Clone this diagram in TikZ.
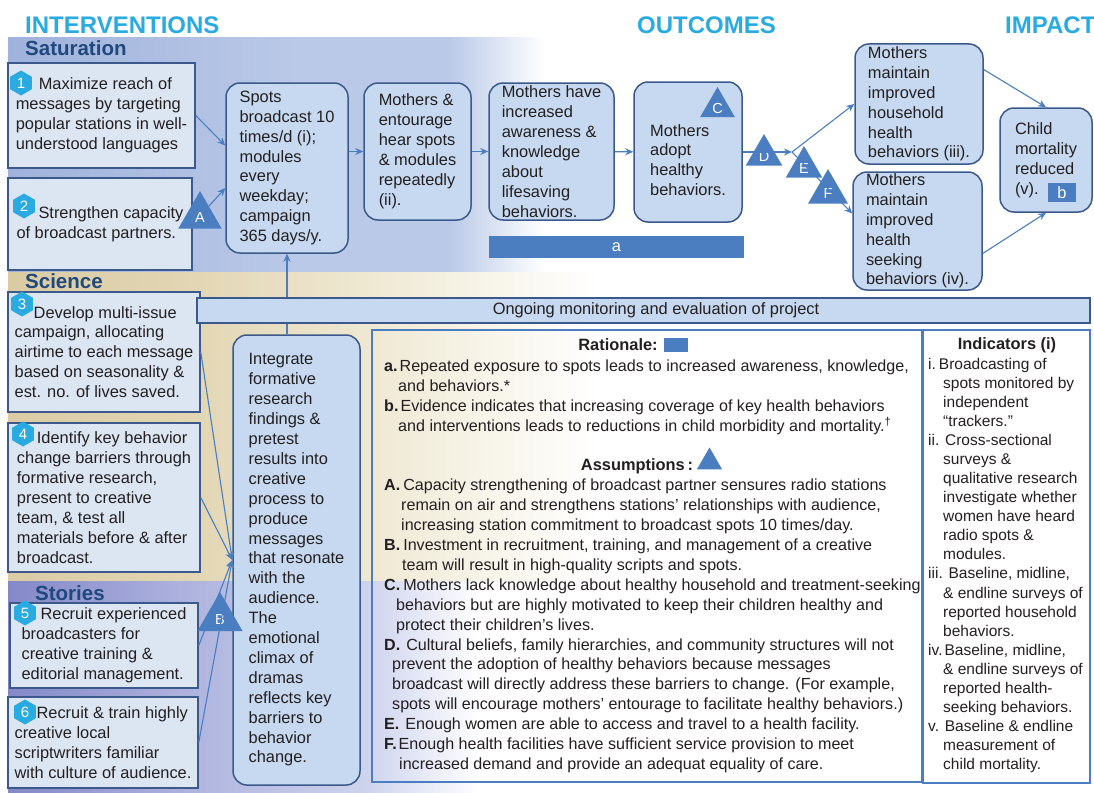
\documentclass[tikz,border=0pt]{standalone}
\usepackage{fontspec}
\setmainfont{Liberation Sans}
\usetikzlibrary{shapes.geometric,arrows.meta}

\definecolor{headcyan}{RGB}{41,171,226}
\definecolor{secblue}{RGB}{31,73,125}
\definecolor{boxedge}{RGB}{59,89,138}
\definecolor{lightfill}{RGB}{220,230,242}
\definecolor{roundfill}{RGB}{198,217,240}
\definecolor{accent}{RGB}{74,126,193}
\definecolor{txt}{RGB}{35,31,32}
\definecolor{satL}{RGB}{160,178,220}
\definecolor{satM}{RGB}{186,201,231}
\definecolor{sciL}{RGB}{218,203,163}
\definecolor{sciM}{RGB}{226,214,180}
\definecolor{sciR}{RGB}{239,233,212}
\definecolor{stoL}{RGB}{132,136,200}
\definecolor{stoM}{RGB}{176,181,223}
\definecolor{stoR}{RGB}{206,211,237}

\pgfdeclarehorizontalshading{satshade}{100bp}{color(0bp)=(satL); color(25bp)=(satL); color(52bp)=(satM); color(66bp)=(satM); color(75bp)=(white); color(100bp)=(white)}
\pgfdeclarehorizontalshading{scishade}{100bp}{color(0bp)=(sciL); color(25bp)=(sciL); color(41bp)=(sciM); color(56bp)=(sciR); color(75bp)=(white); color(100bp)=(white)}
\pgfdeclarehorizontalshading{stoshade}{100bp}{color(0bp)=(stoL); color(25bp)=(stoL); color(45bp)=(stoM); color(63bp)=(stoR); color(75bp)=(white); color(100bp)=(white)}

\begin{document}
\begin{tikzpicture}[x=1pt, y=-1pt,
  font=\fontsize{16.4}{19.9}\selectfont,
  sqbox/.style={draw=boxedge, line width=1.5pt, fill=lightfill, text=txt, align=left, inner sep=0pt},
  rbox/.style={draw=boxedge, line width=1.5pt, fill=roundfill, text=txt, align=left, inner sep=0pt, rounded corners=14pt},
  badge/.style={regular polygon, regular polygon sides=6, shape border rotate=30, fill=headcyan, text=white, inner sep=0pt, minimum size=25pt, font=\fontsize{15}{15}\selectfont},
  tri/.style={regular polygon, regular polygon sides=3, fill=accent, inner sep=0pt, label={[text=white, yshift=-1.5pt, font=\fontsize{14.5}{14.5}\selectfont]center:#1}},
  arr/.style={color=accent, line width=1.1pt, -{Stealth[length=8pt, width=7pt]}},
  head/.style={text=headcyan, anchor=west, inner sep=0pt, font=\fontsize{24}{24}\selectfont\bfseries},
  sectitle/.style={text=secblue, anchor=west, inner sep=0pt, font=\fontsize{20.5}{20.5}\selectfont\bfseries},
  bluetag/.style={fill=accent, text=white, inner sep=0pt},
  panel/.style={draw=accent, line width=1.5pt, inner sep=0pt},
  plain/.style={text=txt, align=left, inner sep=0pt, anchor=north west}
]
\useasboundingbox (0,0) rectangle (1094,792);

\shade[shading=satshade] (8,38) rectangle (545,272);
\shade[shading=scishade] (8,272) rectangle (600,581);
\shade[shading=stoshade] (8,581) rectangle (480,792);

\node[head] at (25,25) (hint) {INTERVENTIONS};
\node[head] at (637,25) (hout) {OUTCOMES};
\node[head] at (1005,25) (himp) {IMPACT};
\node[sectitle] at (25,48) (ssat) {Saturation};
\node[sectitle] at (25,281) (ssci) {Science};
\node[sectitle] at (35,593) (ssto) {Stories};

\node[sqbox, minimum width=187pt, minimum height=105pt] at (101.5,115.5) (maxreach) {\hspace*{23pt}Maximize reach of\\messages by targeting\\popular stations in well-\\understood languages};
\node[sqbox, minimum width=184pt, minimum height=92pt] at (100,224) (capacity) {\hspace*{22pt}Strengthen capacity\\of broadcast partners.};
\node[sqbox, minimum width=192pt, minimum height=120pt] at (104,352) (campaign) {\hspace*{19pt}Develop multi-issue\\campaign, allocating\\airtime to each message\\based on seasonality \&\\est. no. of lives saved.};
\node[sqbox, minimum width=192pt, minimum height=149pt] at (104,497.5) (barriers) {\hspace*{20pt}Identify key behavior\\change barriers through\\formative research,\\present to creative\\team, \& test all\\materials before \& after\\broadcast.};
\node[sqbox, minimum width=188pt, minimum height=85pt] at (104,645.5) (broadcasters) {\hspace*{19pt}Recruit experienced\\broadcasters for\\creative training \&\\editorial management.};
\node[sqbox, minimum width=190pt, minimum height=91pt] at (103,742.5) (writers) {\hspace*{22pt}Recruit \& train highly\\creative local\\scriptwriters familiar\\with culture of audience.};

\node[rbox, minimum width=122pt, minimum height=170pt] at (287,168) (spots) {Spots\\broadcast 10\\times/d (i);\\modules\\every\\weekday;\\campaign\\365 days/y.};
\node[rbox, minimum width=107pt, minimum height=137pt] at (417.5,151.5) (hear) {Mothers \&\\entourage\\hear spots\\\& modules\\repeatedly\\(ii).};
\node[rbox, minimum width=125pt, minimum height=137pt] at (551.5,151.5) (aware) {Mothers have\\increased\\awareness \&\\knowledge\\about\\lifesaving\\behaviors.};
\node[rbox, minimum width=108pt, minimum height=140pt] at (688,152) (adopt) {\mbox{}\\[8pt]Mothers\\adopt\\healthy\\behaviors.};
\node[rbox, minimum width=128pt, minimum height=120pt] at (919,104) (household) {Mothers\\maintain\\improved\\household\\health\\behaviors (iii).};
\node[rbox, minimum width=129pt, minimum height=118pt] at (917.5,231) (seeking) {Mothers\\maintain\\improved\\health\\seeking\\behaviors (iv).};
\node[rbox, minimum width=92pt, minimum height=104pt] at (1046,160) (mortality) {Child\\mortality\\reduced\\(v).};
\node[rbox, minimum width=127pt, minimum height=450pt] at (296.5,560) (integrate) {Integrate\\formative\\research\\findings \&\\pretest\\results into\\creative\\process to\\produce\\messages\\that resonate\\with the\\audience.\\The\\emotional\\climax of\\dramas\\reflects key\\barriers to\\behavior\\change.};

\node[bluetag, minimum width=255pt, minimum height=22pt] at (616.5,247) (bara) {a};
\node[bluetag, minimum width=28pt, minimum height=19pt] at (1062,192.5) (tagb) {b};

\node[badge] at (21,83) (n1) {1};
\node[badge] at (24,206) (n2) {2};
\node[badge] at (22,304) (n3) {3};
\node[badge] at (23,434) (n4) {4};
\node[badge] at (25,613) (n5) {5};
\node[badge] at (25,712) (n6) {6};

\node[tri=A, minimum size=50pt] at (200,216) (triA) {};
\node[tri=B, minimum size=52pt] at (220,618) (triB) {};
\node[tri=C, minimum size=40pt] at (717.5,107) (triC) {};
\node[tri=D, minimum size=42pt] at (764,155) (triD) {};
\node[tri=E, minimum size=42pt] at (804,167) (triE) {};
\node[tri=F, minimum size=46pt] at (828,192) (triF) {};
\coordinate (fork) at (792,152);

\path [arr] (maxreach.east) edge (spots.160);
\path [arr] (triA) edge (spots.198);
\path [arr] (spots.east |- hear) edge (hear);
\path [arr] (hear) edge (aware);
\path [arr] (aware) edge (adopt);
\path [arr] (adopt) edge (fork);
\path [arr] (fork) edge (household.west);
\path [arr] (fork) edge (seeking.165);
\path [arr] (household.28) edge (mortality.north);
\path [arr] (seeking.-19) edge (mortality.south);
\path [arr] (campaign.east) edge (integrate.west);
\path [arr] (barriers.east) edge (integrate.west);
\path [arr] (broadcasters.east) edge (integrate.west);
\path [arr] (writers.east) edge (integrate.west);
\path [arr] (integrate.north -| spots) edge (spots);

\node[draw=boxedge, line width=1.5pt, fill=roundfill, text=txt, minimum width=893pt, minimum height=25pt, inner sep=0pt] at (643.5,310.5) (monitor) {\hspace{25pt}Ongoing monitoring and evaluation of project};

\node[panel, minimum width=550pt, minimum height=452pt] at (647,556) (rationale) {};
\node[panel, minimum width=167pt, minimum height=453pt] at (1006.5,556.5) (indicators) {};

\node[text=txt, inner sep=0pt, font=\fontsize{16.4}{19.9}\selectfont\bfseries] at (618,345) (rtitle) {Rationale:};
\node[bluetag, minimum width=24pt, minimum height=14pt] at (676,345) (rtag) {};
\node[plain, font=\fontsize{16.1}{19.9}\selectfont] at (384,360) (ritems) {\textbf{a.}\hspace{2pt}Repeated exposure to spots leads to increased awareness, knowledge,\\
\hspace*{14pt}and behaviors.*\\
\textbf{b.}\hspace{2pt}Evidence indicates that increasing coverage of key health behaviors\\
\hspace*{14pt}and interventions leads to reductions in child morbidity and mortality.\textsuperscript{\textdagger}};

\node[text=txt, inner sep=0pt, font=\fontsize{16.4}{19.9}\selectfont\bfseries] at (637,466) (atitle) {Assumptions\,:};
\node[tri={}, minimum size=29pt] at (709.5,462) (atri) {};
\node[plain, font=\fontsize{16.1}{19.9}\selectfont] at (384,479) (aitems) {\textbf{A.}\hspace{3pt}Capacity strengthening of broadcast partner sensures radio stations\\
\hspace*{17pt}remain on air and strengthens stations’ relationships with audience,\\
\hspace*{17pt}increasing station commitment to broadcast spots 10 times/day.\\
\textbf{B.}\hspace{3pt}Investment in recruitment, training, and management of a creative\\
\hspace*{18pt}team will result in high-quality scripts and spots.\\
\textbf{C.}\hspace{3pt}Mothers lack knowledge about healthy household and treatment-seeking\\
\hspace*{12pt}behaviors but are highly motivated to keep their children healthy and\\
\hspace*{12pt}protect their children’s lives.\\
\textbf{D.}\hspace{6pt}Cultural beliefs, family hierarchies, and community structures will not\\
\hspace*{8pt}prevent the adoption of healthy behaviors because messages\\
\hspace*{8pt}broadcast will directly address these barriers to change. (For example,\\
\hspace*{8pt}spots will encourage mothers’ entourage to facilitate healthy behaviors.)\\
\textbf{E.}\hspace{6pt}Enough women are able to access and travel to a health facility.\\
\textbf{F.}\hspace{2pt}Enough health facilities have sufficient service provision to meet\\
\hspace*{15pt}increased demand and provide an adequat equality of care.};

\node[text=txt, inner sep=0pt, font=\fontsize{16.4}{19.9}\selectfont\bfseries] at (1007,345) (ititle) {Indicators (i)};
\node[plain, font=\fontsize{15.5}{19.05}\selectfont] at (928,358) (iitems) {i.\hspace{3pt}Broadcasting of\\
\hspace*{15pt}spots monitored by\\
\hspace*{15pt}independent\\
\hspace*{15pt}“trackers.”\\
ii. Cross-sectional\\
\hspace*{15pt}surveys \&\\
\hspace*{15pt}qualitative research\\
\hspace*{15pt}investigate whether\\
\hspace*{15pt}women have heard\\
\hspace*{15pt}radio spots \&\\
\hspace*{15pt}modules.\\
iii. Baseline, midline,\\
\hspace*{15pt}\& endline surveys of\\
\hspace*{15pt}reported household\\
\hspace*{15pt}behaviors.\\
iv.\hspace{2pt}Baseline, midline,\\
\hspace*{15pt}\& endline surveys of\\
\hspace*{15pt}reported health-\\
\hspace*{15pt}seeking behaviors.\\
v. Baseline \& endline\\
\hspace*{15pt}measurement of\\
\hspace*{15pt}child mortality.};
\end{tikzpicture}
\end{document}
